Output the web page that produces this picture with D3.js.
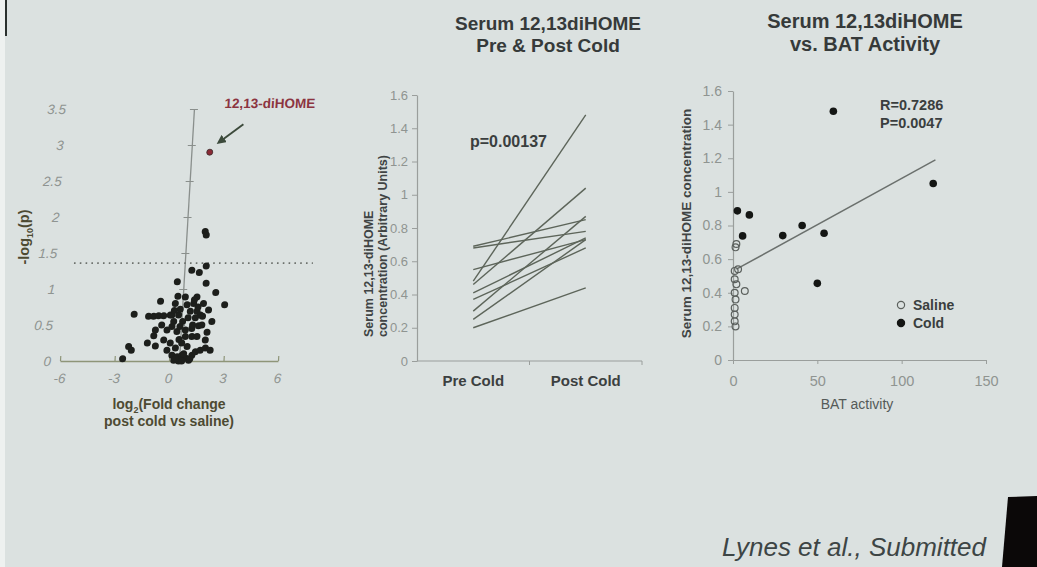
<!DOCTYPE html>
<html><head><meta charset="utf-8">
<script src="https://cdn.jsdelivr.net/npm/d3@7"></script>
<style>
html,body{margin:0;padding:0;background:#dbe1e0;overflow:hidden}
svg{display:block}
text{font-family:"Liberation Sans",Arial,Helvetica,sans-serif}
</style>
</head><body>
<svg id="c" width="1037" height="567"></svg>
<script>
// ---------------- DATA ----------------
// Panel 1: volcano plot
const volcanoXTicks = [-6, -3, 0, 3, 6];
const volcanoYTicks = [0, 0.5, 1, 1.5, 2, 2.5, 3, 3.5];
const volcanoFC = [1.57,1.64,1.74,0.96,1.38,0.20,1.79,2.35,2.88,-0.66,-2.07,-2.56,-2.27,-2.11,-1.25,-0.92,-1.27,-0.99,-0.72,-0.44,-0.08,0.28,0.69,1.33,0.16,0.81,1.17,1.71,1.01,1.38,1.57,2.01,2.23,0.01,0.38,0.13,0.05,-0.85,-0.21,0.34,0.80,1.15,1.51,1.69,0.82,1.18,1.46,1.93,-0.80,-0.36,0.01,0.31,-0.15,0.14,0.43,0.69,0.89,0.26,0.53,1.24,1.42,1.68,1.96,2.23,1.08,0.60,0.70,0.34,0.78,1.14,0.45,0.62,0.91,1.31,1.42,1.18,0.48,0.95,2.00,-0.52,1.70,0.13,1.20,0.49,0.64];
const volcanoP  = [1.80,1.75,1.32,1.26,1.23,1.10,1.08,0.95,0.78,0.83,0.65,0.03,0.20,0.15,0.25,0.35,0.62,0.62,0.63,0.63,0.64,0.90,0.89,0.89,0.80,0.78,0.80,0.80,0.69,0.69,0.64,0.71,0.55,0.64,0.64,0.55,0.48,0.43,0.43,0.41,0.43,0.45,0.49,0.50,0.34,0.34,0.34,0.29,0.21,0.29,0.25,0.18,0.15,0.08,0.06,0.08,0.04,0.01,0.00,0.08,0.13,0.15,0.18,0.15,0.01,0.02,0.00,0.03,0.10,0.03,0.72,0.55,0.60,0.60,0.75,0.50,0.30,0.20,0.40,0.50,0.62,0.70,0.85,0.48,0.25];
const hitFC = [1.56];
const hitP = [2.9];
const hitLabel = ["12,13-diHOME"];
const thresholdP = [1.36];
const thresholdSpan = [-5.55, 7.6];
const volcanoAxisCross = [0.55];

// Panel 2: pre/post cold paired lines
const pairCategories = ["Pre Cold", "Post Cold"];
const preCold  = [0.48, 0.46, 0.69, 0.68, 0.55, 0.41, 0.37, 0.30, 0.25, 0.20];
const postCold = [1.48, 1.04, 0.85, 0.78, 0.73, 0.74, 0.68, 0.87, 0.73, 0.44];
const concTicks = [0, 0.2, 0.4, 0.6, 0.8, 1, 1.2, 1.4, 1.6];
const pairPText = ["p=0.00137"];

// Panel 3: concentration vs BAT activity
const batTicks = [0, 50, 100, 150];
const salineBAT  = [2, 1.5, 3, 1, 1, 2, 7, 1, 1.5, 1, 1, 1, 1.5];
const salineConc = [0.69, 0.67, 0.54, 0.53, 0.48, 0.45, 0.41, 0.40, 0.36, 0.31, 0.27, 0.23, 0.20];
const coldBAT  = [59.5, 118.7, 2.6, 9.7, 5.7, 29.5, 41, 54, 50];
const coldConc = [1.48, 1.05, 0.887, 0.863, 0.738, 0.74, 0.80, 0.754, 0.456];
const fitBAT  = [2, 120];
const fitConc = [0.54, 1.19];
const statsText = ["R=0.7286", "P=0.0047"];
const legendLabels = ["Saline", "Cold"];

// ---------------- DRAW ----------------
const svg = d3.select("#c");
const W = 1037, H = 567;
svg.append("rect").attr("width", W).attr("height", H).attr("fill", "#dbe1e0");
// photo frame edges
svg.append("rect").attr("x", 0).attr("y", 0).attr("width", 5).attr("height", H).attr("fill", "#eef1f0");
svg.append("rect").attr("x", 5).attr("y", 0).attr("width", 2).attr("height", 36).attr("fill", "#2a302e");
svg.append("path").attr("d", "M1008,497 L1037,496 L1037,567 L1002,567 Z").attr("fill", "#0b0808");

const tickGrey = "#8f9491";
const darkText = "#363a3a";

// ===== Panel 1 =====
const xs1 = d3.scaleLinear().domain([-6, 6]).range([60, 278]);
const ys1 = d3.scaleLinear().domain([0, 3.5]).range([361, 109]);
const y0 = ys1(0);
const g1 = svg.append("g").attr("transform", `translate(0,${y0}) skewX(-3.4) translate(0,${-y0})`);

const xa1 = g1.append("g").attr("transform", `translate(0,${y0})`)
  .call(d3.axisBottom(xs1).tickValues(volcanoXTicks).tickSizeInner(-5).tickSizeOuter(0).tickPadding(12).tickFormat(d => String(d)));
xa1.select(".domain").attr("stroke", "#8e9578").attr("stroke-width", 1.6);
xa1.selectAll(".tick line").attr("stroke", "#8e9578").attr("stroke-width", 1.2);
xa1.selectAll(".tick text").attr("fill", tickGrey).attr("font-size", 13.5).style("font-style", "italic");

const ya1 = g1.append("g").attr("transform", `translate(${xs1(volcanoAxisCross[0])},0)`)
  .call(d3.axisLeft(ys1).tickValues(volcanoYTicks).tickSizeOuter(0).tickFormat(""));
ya1.select(".domain").attr("stroke", "#8a8f8c").attr("stroke-width", 1.3);
ya1.selectAll(".tick line").attr("x1", 4).attr("x2", -4).attr("stroke", "#8a8f8c").attr("stroke-width", 1.2);
g1.append("g").selectAll("text").data(volcanoYTicks).join("text")
  .attr("x", xs1(-6) - 9).attr("y", d => ys1(d)).attr("dy", "0.35em")
  .attr("text-anchor", "end").attr("fill", tickGrey).attr("font-size", 13.5).style("font-style", "italic")
  .text(d => String(d));

g1.append("line")
  .attr("x1", xs1(thresholdSpan[0])).attr("x2", xs1(thresholdSpan[1]))
  .attr("y1", ys1(thresholdP[0])).attr("y2", ys1(thresholdP[0]))
  .attr("stroke", "#6c706c").attr("stroke-width", 1.6).attr("stroke-dasharray", "1.6,4.2");

g1.append("g").selectAll("circle").data(volcanoFC.map((x, i) => [x, volcanoP[i]])).join("circle")
  .attr("cx", d => xs1(d[0])).attr("cy", d => ys1(d[1])).attr("r", 3.5).attr("fill", "#1d1f1c");
const hit = g1.append("g");
hit.selectAll("circle").data(hitFC.map((x, i) => [x, hitP[i]])).join("circle")
  .attr("cx", d => xs1(d[0])).attr("cy", d => ys1(d[1])).attr("r", 3).attr("fill", "#8a2a36").attr("stroke", "#3a2a2a").attr("stroke-width", 0.8);
const defs = svg.append("defs");
defs.append("marker").attr("id", "ah").attr("viewBox", "0 0 10 10").attr("refX", 5).attr("refY", 5)
  .attr("markerWidth", 4.5).attr("markerHeight", 4.5).attr("orient", "auto-start-reverse")
  .append("path").attr("d", "M0,0 L10,5 L0,10 Z").attr("fill", "#3c4a3b");
const hx = xs1(hitFC[0]), hy = ys1(hitP[0]);
hit.append("line").attr("x1", hx + 32).attr("y1", hy - 28).attr("x2", hx + 10).attr("y2", hy - 11)
  .attr("stroke", "#3c4a3b").attr("stroke-width", 2).attr("marker-end", "url(#ah)");
hit.append("text").attr("x", hx + 12).attr("y", hy - 44).attr("fill", "#8c3440")
  .attr("font-size", 13.5).attr("font-weight", "bold").text(hitLabel[0]);

const yl1 = svg.append("text").attr("transform", "translate(29,237) rotate(-90)")
  .attr("text-anchor", "middle").attr("fill", "#4d4a32").attr("font-size", 14.5).attr("font-weight", "bold");
yl1.append("tspan").text("-log");
yl1.append("tspan").attr("font-size", 9).attr("dy", 4).text("10");
yl1.append("tspan").attr("dy", -4).text("(p)");
const xl1 = svg.append("text").attr("x", xs1(0)).attr("y", 409).attr("text-anchor", "middle")
  .attr("fill", "#4d4a32").attr("font-size", 14).attr("font-weight", "bold");
xl1.append("tspan").text("log");
xl1.append("tspan").attr("font-size", 9).attr("dy", 4).text("2");
xl1.append("tspan").attr("dy", -4).text("(Fold change");
svg.append("text").attr("x", xs1(0)).attr("y", 426).attr("text-anchor", "middle")
  .attr("fill", "#4d4a32").attr("font-size", 14).attr("font-weight", "bold").text("post cold vs saline)");

// ===== Panel 2 =====
const band2 = d3.scaleBand().domain(pairCategories).range([417, 642]);
const xs2 = d3.scalePoint().domain(pairCategories).range([417, 642]).padding(0.5);
const ys2 = d3.scaleLinear().domain([0, 1.6]).range([361, 95]);

svg.append("text").attr("x", 548).attr("y", 30).attr("text-anchor", "middle").attr("fill", darkText)
  .attr("font-size", 19).attr("font-weight", "bold").text("Serum 12,13diHOME");
svg.append("text").attr("x", 548).attr("y", 52).attr("text-anchor", "middle").attr("fill", darkText)
  .attr("font-size", 19).attr("font-weight", "bold").text("Pre & Post Cold");

const ya2 = svg.append("g").attr("transform", "translate(417,0)")
  .call(d3.axisLeft(ys2).tickValues(concTicks).tickSizeInner(5).tickSizeOuter(0).tickPadding(4).tickFormat(d => String(d)));
ya2.select(".domain").attr("stroke", "#9a9e9c").attr("stroke-width", 1.2);
ya2.selectAll(".tick line").attr("stroke", "#9a9e9c");
ya2.selectAll(".tick text").attr("fill", tickGrey).attr("font-size", 13);

const xa2 = svg.append("g").attr("transform", `translate(0,${ys2(0)})`);
xa2.append("line").attr("x1", band2.range()[0]).attr("x2", band2.range()[1]).attr("y1", 0).attr("y2", 0)
  .attr("stroke", "#9a9e9c").attr("stroke-width", 1.2);
xa2.selectAll("line.t").data(pairCategories.slice(1).map(c => band2(c)).concat([band2.range()[1]])).join("line")
  .attr("class", "t").attr("x1", d => d).attr("x2", d => d).attr("y1", 0).attr("y2", 4).attr("stroke", "#9a9e9c");
xa2.selectAll("text").data(pairCategories).join("text")
  .attr("x", d => xs2(d)).attr("y", 25).attr("text-anchor", "middle").attr("fill", "#3c4040")
  .attr("font-size", 15).attr("font-weight", "bold").text(d => d);

svg.append("g").selectAll("line").data(preCold.map((v, i) => [v, postCold[i]])).join("line")
  .attr("x1", xs2(pairCategories[0])).attr("x2", xs2(pairCategories[1]))
  .attr("y1", d => ys2(d[0])).attr("y2", d => ys2(d[1]))
  .attr("stroke", "#5d655a").attr("stroke-width", 1.4);

svg.append("text").attr("x", 470).attr("y", 147).attr("fill", "#3a3e3e").attr("font-size", 16)
  .attr("font-weight", "bold").text(pairPText[0]);

svg.append("text").attr("transform", "translate(373,337) rotate(-90)").attr("text-anchor", "start")
  .attr("fill", "#404444").attr("font-size", 12.5).attr("font-weight", "bold").text("Serum 12,13-diHOME");
svg.append("text").attr("transform", "translate(387,337) rotate(-90)").attr("text-anchor", "start")
  .attr("fill", "#404444").attr("font-size", 12.5).attr("font-weight", "bold").text("concentration (Arbitrary Units)");

// ===== Panel 3 =====
const xs3 = d3.scaleLinear().domain([0, 150]).range([733, 986]);
const ys3 = d3.scaleLinear().domain([0, 1.6]).range([360, 91]);

svg.append("text").attr("x", 865).attr("y", 28).attr("text-anchor", "middle").attr("fill", darkText)
  .attr("font-size", 20).attr("font-weight", "bold").text("Serum 12,13diHOME");
svg.append("text").attr("x", 865).attr("y", 51).attr("text-anchor", "middle").attr("fill", darkText)
  .attr("font-size", 20).attr("font-weight", "bold").text("vs. BAT Activity");

const ya3 = svg.append("g").attr("transform", `translate(${xs3(0)},0)`)
  .call(d3.axisLeft(ys3).tickValues(concTicks).tickSizeInner(5).tickSizeOuter(0).tickPadding(6).tickFormat(d => String(d)));
ya3.select(".domain").attr("stroke", "#9a9e9c").attr("stroke-width", 1.2);
ya3.selectAll(".tick line").attr("stroke", "#9a9e9c");
ya3.selectAll(".tick text").attr("fill", tickGrey).attr("font-size", 14);

const xa3 = svg.append("g").attr("transform", `translate(0,${ys3(0)})`)
  .call(d3.axisBottom(xs3).tickValues(batTicks).tickSizeInner(4).tickSizeOuter(0).tickPadding(12).tickFormat(d => String(d)));
xa3.select(".domain").attr("stroke", "#9a9e9c").attr("stroke-width", 1.2);
xa3.selectAll(".tick line").attr("stroke", "#9a9e9c");
xa3.selectAll(".tick text").attr("fill", tickGrey).attr("font-size", 14.5);

svg.append("line").attr("x1", xs3(fitBAT[0])).attr("x2", xs3(fitBAT[1]))
  .attr("y1", ys3(fitConc[0])).attr("y2", ys3(fitConc[1]))
  .attr("stroke", "#6b706d").attr("stroke-width", 1.5);

svg.append("g").selectAll("circle").data(salineBAT.map((x, i) => [x, salineConc[i]])).join("circle")
  .attr("cx", d => xs3(d[0])).attr("cy", d => ys3(d[1])).attr("r", 3.4)
  .attr("fill", "none").attr("stroke", "#5b605d").attr("stroke-width", 1.2);
svg.append("g").selectAll("circle").data(coldBAT.map((x, i) => [x, coldConc[i]])).join("circle")
  .attr("cx", d => xs3(d[0])).attr("cy", d => ys3(d[1])).attr("r", 3.8).attr("fill", "#141614");

svg.append("g").selectAll("text").data(statsText).join("text")
  .attr("x", 880).attr("y", (d, i) => 110 + i * 18).attr("fill", "#3a3e3e")
  .attr("font-size", 14.5).attr("font-weight", "bold").text(d => d);

const leg = svg.append("g").attr("transform", "translate(901,305)");
leg.selectAll("circle").data(legendLabels).join("circle")
  .attr("cx", 0).attr("cy", (d, i) => i * 18).attr("r", 3.6)
  .attr("fill", (d, i) => i === 0 ? "none" : "#141614")
  .attr("stroke", (d, i) => i === 0 ? "#5b605d" : "#141614").attr("stroke-width", 1.2);
leg.selectAll("text").data(legendLabels).join("text")
  .attr("x", 12).attr("y", (d, i) => i * 18).attr("dy", "0.36em").attr("fill", "#3a3e3e")
  .attr("font-size", 14).attr("font-weight", "bold").text(d => d);

svg.append("text").attr("transform", `translate(691,${(ys3(0) + ys3(1.6)) / 2 - 2}) rotate(-90)`).attr("text-anchor", "middle")
  .attr("fill", "#404444").attr("font-size", 13.5).attr("font-weight", "bold").text("Serum 12,13-diHOME concentration");
svg.append("text").attr("x", 857).attr("y", 409).attr("text-anchor", "middle")
  .attr("fill", "#555a58").attr("font-size", 14).text("BAT activity");

svg.append("text").attr("x", 986).attr("y", 556).attr("text-anchor", "end")
  .attr("fill", "#3d4545").attr("font-size", 26).style("font-style", "italic")
  .text("Lynes et al., Submitted");
</script>
</body></html>
